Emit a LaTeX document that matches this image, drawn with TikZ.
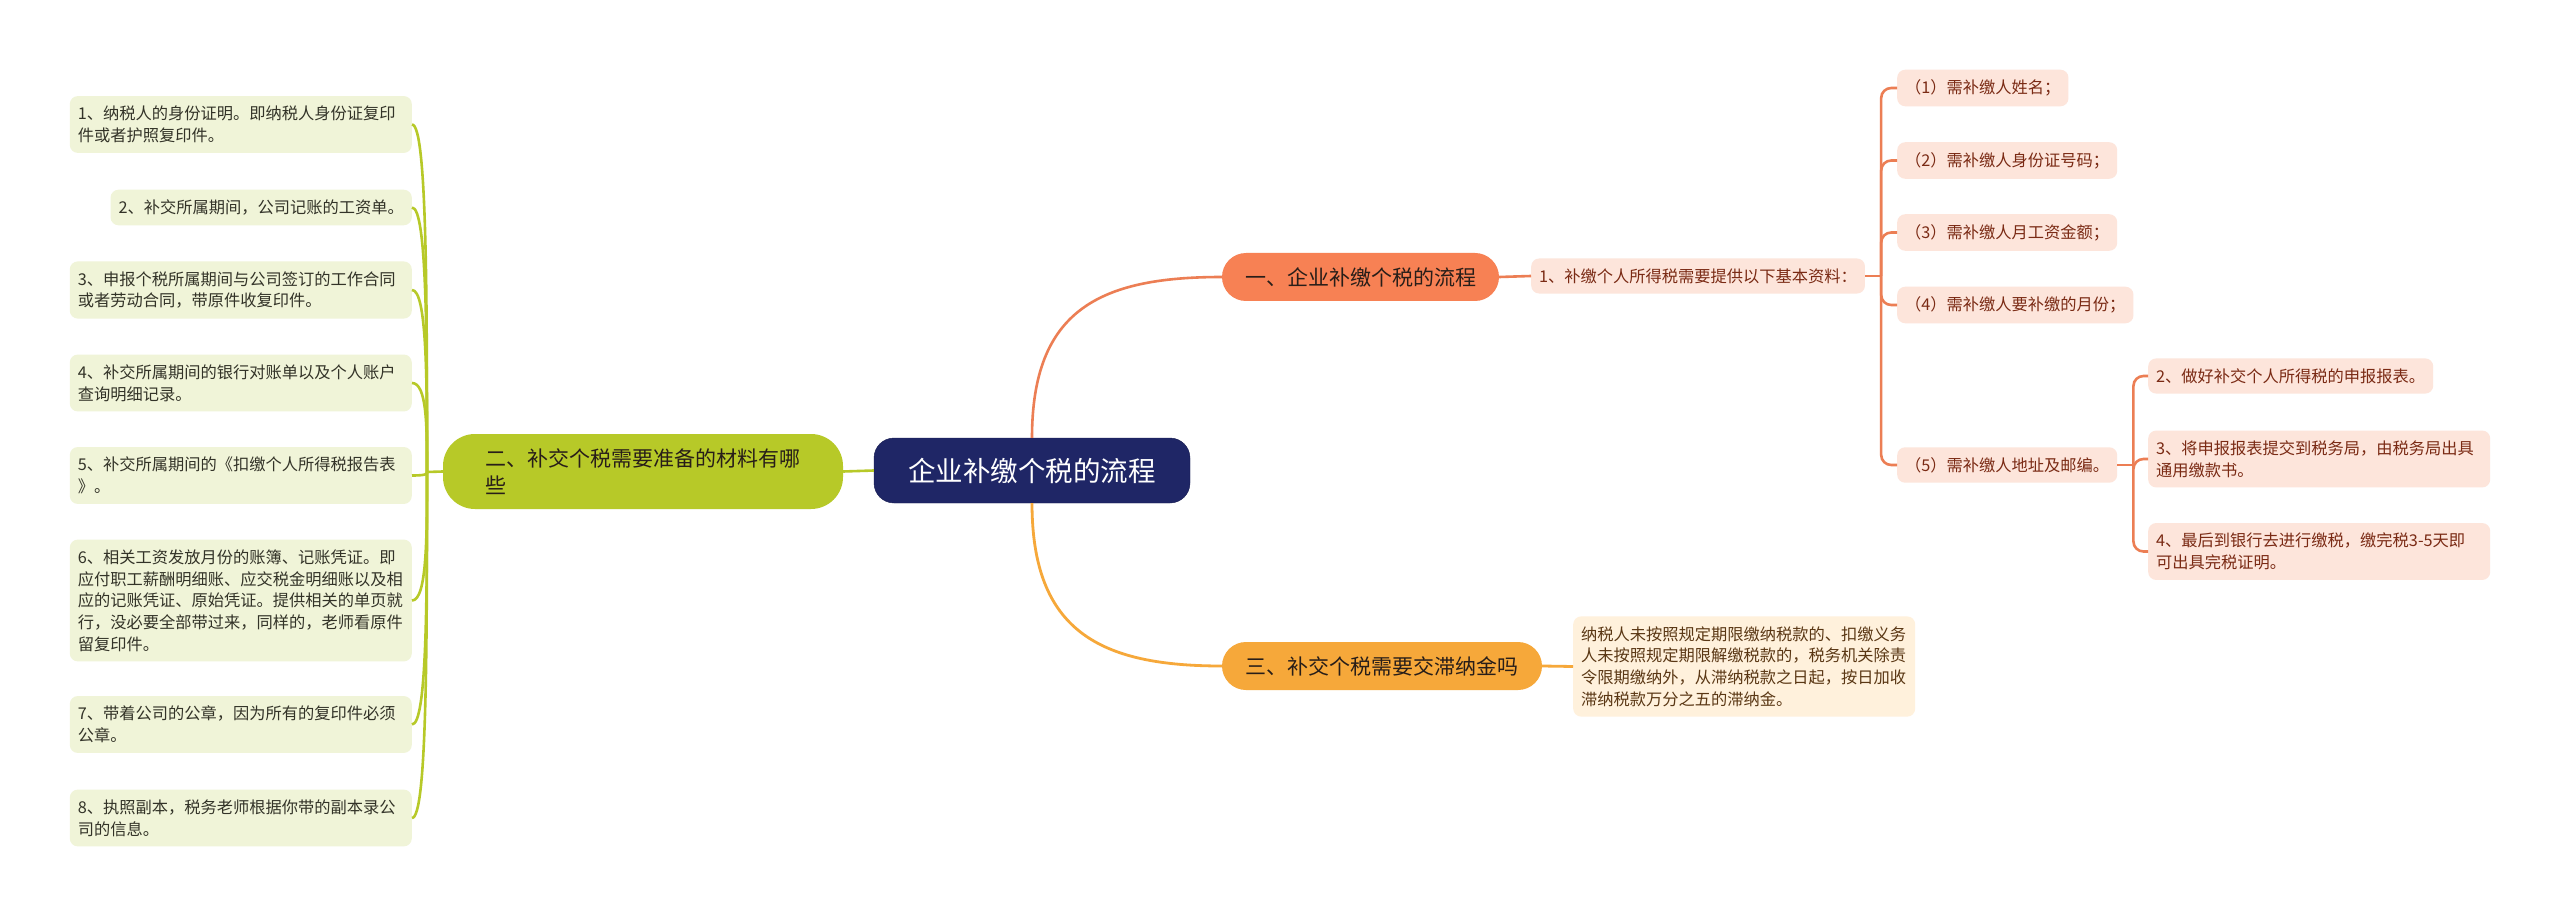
\documentclass[tikz,border=0pt]{standalone}
\usepackage{fontspec}
\setmainfont{Noto Sans CJK SC}
\usetikzlibrary{calc}
\definecolor{navy}{RGB}{31,38,102}
\definecolor{coralF}{RGB}{247,129,84}
\definecolor{coralL}{RGB}{236,126,84}
\definecolor{amber}{RGB}{246,168,58}
\definecolor{olive}{RGB}{183,201,40}
\definecolor{leafG}{RGB}{240,244,216}
\definecolor{leafP}{RGB}{253,229,219}
\definecolor{leafY}{RGB}{255,241,220}
\definecolor{txtG}{RGB}{51,51,40}
\definecolor{txtP}{RGB}{122,42,20}
\definecolor{txtY}{RGB}{90,55,20}
\definecolor{txtB}{RGB}{40,30,25}

\begin{document}
\begin{tikzpicture}[x=1pt,y=-1pt,
  leaf/.style={rounded corners=8pt,inner xsep=8pt,inner ysep=10pt,align=left,
     font=\fontsize{16.25}{21.7}\selectfont},
  gleaf/.style={leaf,fill=leafG,text=txtG,anchor=east},
  wgleaf/.style={gleaf,text width=326pt},
  pleaf/.style={leaf,fill=leafP,text=txtP,anchor=west},
  wpleaf/.style={pleaf,text width=326pt},
  branch/.style={rounded corners=24pt,inner sep=0pt,minimum height=48pt,text=txtB,
     font=\fontsize{21}{27}\selectfont},
  gline/.style={draw=olive,line width=2.6pt},
  cline/.style={draw=coralL,line width=2.6pt},
  aline/.style={draw=amber,line width=2.8pt}]
\fill[white] (0,0) rectangle (2560,917);
\useasboundingbox (0,0) rectangle (2560,917);
% root and main branches
\node[fill=navy,draw=navy!80!black,rounded corners=20pt,minimum width=316pt,minimum height=65pt,
  inner sep=0pt,text=white,font=\fontsize{27.5}{30}\selectfont] (root) at (1032,470.5) {企业补缴个税的流程};
\node[branch,fill=coralF,minimum width=277pt] (b1) at (1360.5,277) {一、企业补缴个税的流程};
\node[branch,fill=olive,rounded corners=32pt,minimum width=400pt,minimum height=75pt,
  text width=315pt,align=left] (b2) at (643,471.5) {二、补交个税需要准备的材料有哪\\些};
\node[branch,fill=amber,minimum width=320pt] (b3) at (1382,666) {三、补交个税需要交滞纳金吗};
% left leaves
\node[wgleaf] (l1) at (412,124.5) {1、纳税人的身份证明。即纳税人身份证复印\\件或者护照复印件。};
\node[gleaf]  (l2) at (412,207.5) {2、补交所属期间，公司记账的工资单。};
\node[wgleaf] (l3) at (412,290) {3、申报个税所属期间与公司签订的工作合同\\或者劳动合同，带原件收复印件。};
\node[wgleaf] (l4) at (412,383) {4、补交所属期间的银行对账单以及个人账户\\查询明细记录。};
\node[wgleaf] (l5) at (412,475.5) {5、补交所属期间的《扣缴个人所得税报告表\\》。};
\node[wgleaf] (l6) at (412,600.5) {6、相关工资发放月份的账簿、记账凭证。即\\应付职工薪酬明细账、应交税金明细账以及相\\应的记账凭证、原始凭证。提供相关的单页就\\行，没必要全部带过来，同样的，老师看原件\\留复印件。};
\node[wgleaf] (l7) at (412,724.5) {7、带着公司的公章，因为所有的复印件必须\\公章。};
\node[wgleaf] (l8) at (412,818) {8、执照副本，税务老师根据你带的副本录公\\司的信息。};
% right leaves
\node[pleaf] (r1) at (1531,276) {1、补缴个人所得税需要提供以下基本资料：};
\node[pleaf] (s1) at (1897,88) {（1）需补缴人姓名；};
\node[pleaf] (s2) at (1897,160.5) {（2）需补缴人身份证号码；};
\node[pleaf] (s3) at (1897,232.5) {（3）需补缴人月工资金额；};
\node[pleaf] (s4) at (1897,305) {（4）需补缴人要补缴的月份；};
\node[pleaf] (s5) at (1897,465) {（5）需补缴人地址及邮编。};
\node[pleaf]  (t2) at (2148,376) {2、做好补交个人所得税的申报报表。};
\node[wpleaf] (t3) at (2148,459) {3、将申报报表提交到税务局，由税务局出具\\通用缴款书。};
\node[wpleaf] (t4) at (2148,551.5) {4、最后到银行去进行缴税，缴完税3-5天即\\可出具完税证明。};
\node[leaf,fill=leafY,text=txtY,anchor=west,text width=326pt] (y1) at (1573,666.5) {纳税人未按照规定期限缴纳税款的、扣缴义务\\人未按照规定期限解缴税款的，税务机关除责\\令限期缴纳外，从滞纳税款之日起，按日加收\\滞纳税款万分之五的滞纳金。};
% connectors
\draw[cline] (root.north) .. controls +(0,-128) and +(-122,0) .. (b1.west);
\draw[aline] (root.south) .. controls +(0,128) and +(-122,0) .. (b3.west);
\draw[gline] (root.west) -- (b2.east);
\coordinate (lroot) at (427,472);
\draw[gline] (b2.west) -- (lroot);
\foreach \n in {1,...,8}
  \draw[gline] (lroot) .. controls ($(lroot)!.5!(lroot|-l\n.east)$) and ($(l\n.east)+(15,0)$) .. (l\n.east);
\draw[cline] (b1.east) -- (r1.west);
\coordinate (rroot) at ($(r1.east)+(16,0)$);
\draw[cline] (r1.east) -- (rroot);
\foreach \n in {1,...,5}
  \draw[cline,rounded corners=10pt] (rroot) |- (s\n.west);
\coordinate (sroot) at ($(s5.east)+(16,0)$);
\draw[cline] (s5.east) -- (sroot);
\foreach \n in {2,3,4}
  \draw[cline,rounded corners=10pt] (sroot) |- (t\n.west);
\draw[aline] (b3.east) -- (y1.west);
\end{tikzpicture}
\end{document}
